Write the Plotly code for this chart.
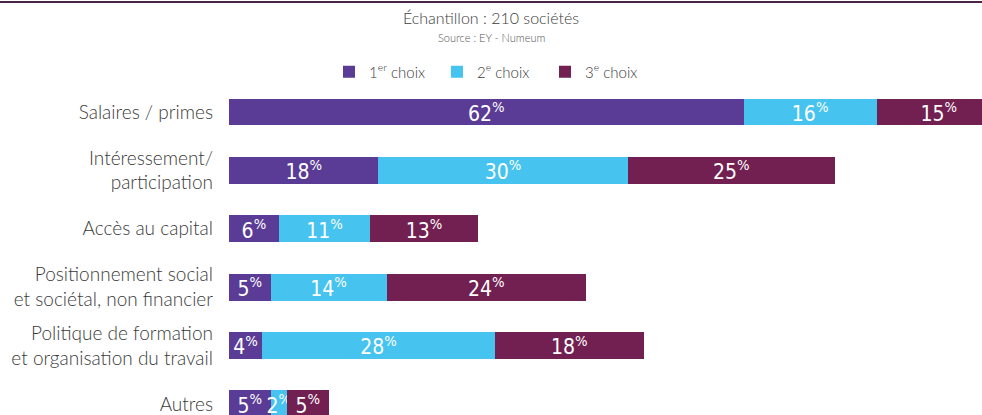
import plotly.graph_objects as go

categories = [
    "Salaires / primes",
    "Intéressement/<br>participation",
    "Accès au capital",
    "Positionnement social<br>et sociétal, non financier",
    "Politique de formation<br>et organisation du travail",
    "Autres",
]
choix_1 = [62, 18, 6, 5, 4, 5]
choix_2 = [16, 30, 11, 14, 28, 2]
choix_3 = [15, 25, 13, 24, 18, 5]

series_names = ["1<sup>er</sup> choix", "2<sup>e</sup> choix", "3<sup>e</sup> choix"]
colors = ["#5a3c96", "#46c3ef", "#721f52"]

fig = go.Figure()
for name, vals, col in zip(series_names, [choix_1, choix_2, choix_3], colors):
    fig.add_trace(go.Bar(
        name=name,
        y=categories,
        x=vals,
        orientation='h',
        marker=dict(color=col, line=dict(width=0)),
        text=[f"{v}<sup>%</sup>" for v in vals],
        textposition='inside',
        insidetextanchor='middle',
        textangle=0,
        constraintext='none',
        textfont=dict(family="DejaVu Sans Condensed, DejaVu Sans", size=21, color="white"),
        width=0.46,
        hoverinfo='skip',
    ))

fig.update_layout(
    barmode='stack',
    width=982,
    height=415,
    margin=dict(l=229, r=0, t=95, b=0),
    paper_bgcolor="white",
    plot_bgcolor="white",
    font=dict(family="Lato", color="#3a3a3a", weight=300),
    title=dict(
        text="Échantillon : 210 sociétés",
        x=0.5, xref='container', xanchor='center',
        y=1 - 18 / 415, yref='container', yanchor='middle',
        font=dict(size=16, color="#3c3c3c", weight=300),
    ),
    legend=dict(
        orientation='h',
        x=0.5, xref='container', xanchor='center',
        y=1 - 72 / 415, yref='container', yanchor='middle',
        font=dict(size=15, color="#3c3c3c", weight=300),
        traceorder='normal',
        entrywidth=63, entrywidthmode='pixels',
    ),
    showlegend=True,
)

fig.update_xaxes(range=[0, 90.7], visible=False, fixedrange=True)
fig.update_yaxes(
    range=[5.19, -0.29],
    showgrid=False, zeroline=False, showline=False,
    ticks='', ticklabelstandoff=15,
    tickfont=dict(size=19, color="#3a3a3a", weight=300),
)

fig.add_annotation(
    text="Source : EY - Numeum",
    xref='paper', yref='paper',
    x=(491 - 229) / 753, y=1 + (95 - 37) / 320,
    showarrow=False, font=dict(size=11, color="#555555", weight=300),
    xanchor='center', yanchor='middle',
)

# thin dark line on top of the page
fig.add_shape(
    type='line', xref='paper', yref='paper',
    x0=-229 / 753, x1=1, y0=1 + (95 - 2) / 320, y1=1 + (95 - 2) / 320,
    line=dict(color="#4a2646", width=2),
)

fig.write_html("out.html", config={'displayModeBar': False},
               post_script="document.body.style.margin='0';")
